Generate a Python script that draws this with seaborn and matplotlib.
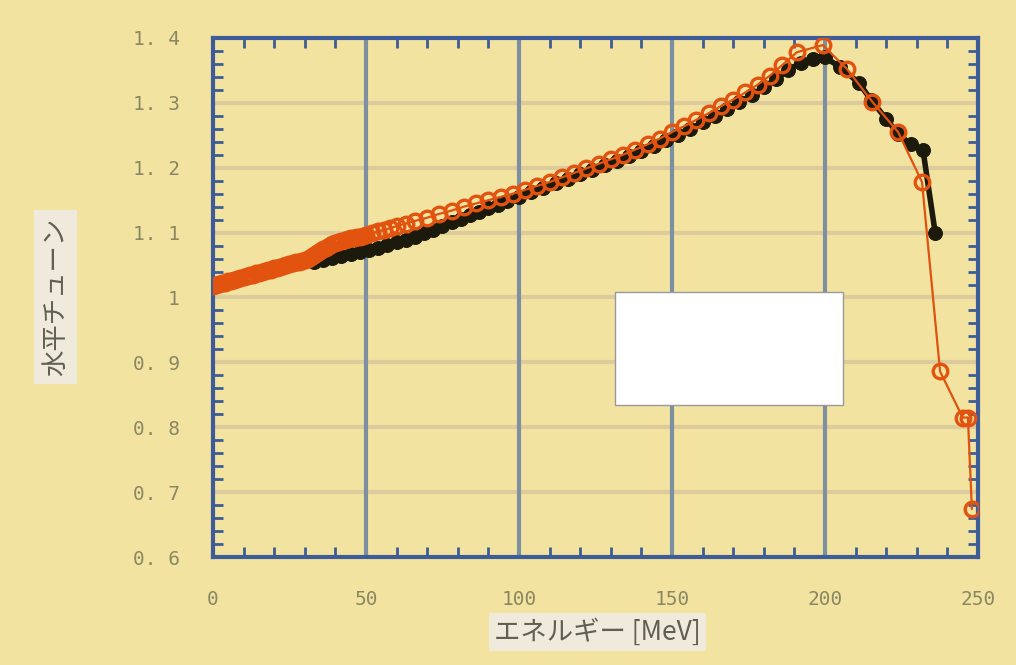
import numpy as np
import pandas as pd
import matplotlib
matplotlib.use("Agg")
import matplotlib.pyplot as plt
import seaborn as sns
from matplotlib.ticker import MultipleLocator, FixedLocator, FixedFormatter
from matplotlib.patches import Rectangle

# ---- data ----
orange_x = [0, 1, 2, 3, 4, 5, 6, 7, 8, 9, 10, 11, 12, 13, 14, 15, 16, 17, 18, 19, 20,
            21, 22, 23, 24, 25, 26, 27, 28, 29, 30, 31, 32, 33, 34, 35, 36, 37, 38, 39, 40,
            41, 42, 43, 44, 45, 46, 47, 48, 49, 50, 52, 54, 56, 58,
            60, 63, 66, 70, 74, 78, 82, 86, 90, 94, 98, 102, 106, 110, 114, 118, 122,
            126, 130, 134, 138, 142, 146, 150, 154, 158, 162, 166, 170, 174, 178, 182, 186,
            190.8, 199.3, 207.2, 215.4, 223.9, 231.7, 237.6, 245.0, 246.7, 248.0]
orange_y = [1.018, 1.019, 1.021, 1.022, 1.023, 1.025, 1.026, 1.027, 1.029, 1.030, 1.031,
            1.033, 1.034, 1.035, 1.037, 1.038, 1.039, 1.041, 1.042, 1.043, 1.045,
            1.046, 1.047, 1.049, 1.050, 1.051, 1.053, 1.054, 1.055, 1.057, 1.058,
            1.060, 1.063, 1.066, 1.069, 1.072, 1.075, 1.077, 1.080, 1.082, 1.084,
            1.086, 1.087, 1.088, 1.090, 1.091, 1.092, 1.093, 1.094, 1.095, 1.097,
            1.099, 1.102, 1.104, 1.107,
            1.110, 1.114, 1.118, 1.123, 1.129, 1.134, 1.140, 1.145, 1.150, 1.155,
            1.160, 1.166, 1.172, 1.178, 1.185, 1.192, 1.199, 1.206, 1.213, 1.220, 1.228, 1.236,
            1.245, 1.255, 1.264, 1.274, 1.284, 1.295, 1.305, 1.316, 1.328, 1.342, 1.358,
            1.378, 1.389, 1.352, 1.302, 1.255, 1.178, 0.886, 0.815, 0.815, 0.674]

black_x = [33, 36, 39, 42, 45, 48, 51, 54, 57, 60, 63, 66, 69, 72, 75, 78, 81, 84, 87, 90, 93,
           96, 100, 104, 108, 112, 116, 120, 124, 128, 132, 136, 140, 144, 148, 152, 156, 160,
           164, 168, 172, 176, 180, 184, 188, 192, 196, 200, 205, 211, 215, 220, 224, 228,
           232, 236]
black_y = [1.055, 1.058, 1.061, 1.064, 1.067, 1.070, 1.073, 1.077, 1.081, 1.085, 1.089, 1.094,
           1.099, 1.104, 1.110, 1.116, 1.121, 1.127, 1.132, 1.138, 1.143, 1.148, 1.155, 1.162,
           1.169, 1.176, 1.183, 1.190, 1.197, 1.204, 1.211, 1.218, 1.226, 1.234, 1.242, 1.251,
           1.260, 1.270, 1.280, 1.291, 1.301, 1.312, 1.324, 1.337, 1.350, 1.362, 1.368, 1.370,
           1.355, 1.331, 1.305, 1.275, 1.252, 1.236, 1.228, 1.100]

x_ticks = [0, 50, 100, 150, 200, 250]
y_ticks = [0.6, 0.7, 0.8, 0.9, 1.0, 1.1, 1.2, 1.3, 1.4]
y_tick_labels = ["0. 6", "0. 7", "0. 8", "0. 9", "1", "1. 1", "1. 2", "1. 3", "1. 4"]
x_label = "エネルギー [MeV]"
y_label = "水平チューン"

# ---- style ----
sns.set_style("white")
plt.rcParams['font.family'] = ['Noto Sans CJK JP', 'DejaVu Sans']

bg = "#f3e3a0"
spine_c = "#3d5c98"
tick_text_c = "#8a8862"

fig = plt.figure(figsize=(10.16, 6.65), dpi=100, facecolor=bg)
ax = fig.add_axes([0.2096, 0.1624, 0.753, 0.7805])
ax.set_facecolor(bg)

df_o = pd.DataFrame({"x": orange_x, "y": orange_y})
df_b = pd.DataFrame({"x": black_x, "y": black_y})

# grid
for yv in y_ticks[1:-1]:
    ax.axhline(yv, color="#dccb9c", lw=3, zorder=1)
for xv in x_ticks[1:-1]:
    ax.axvline(xv, color="#7d90a2", lw=3, zorder=1)

sns.lineplot(data=df_b, x="x", y="y", ax=ax, color="#1c1a0c", lw=4, marker="o",
             markersize=10, markeredgecolor="#1c1a0c", markerfacecolor="#1c1a0c",
             sort=False, zorder=3)
sns.lineplot(data=df_o, x="x", y="y", ax=ax, color="#e0520f", lw=1.6, marker="o",
             markersize=10.5, markeredgecolor="#e2530f", markerfacecolor="none",
             markeredgewidth=2.4, sort=False, zorder=4)

ax.set_xlim(0, 250)
ax.set_ylim(0.6, 1.4)
ax.xaxis.set_major_locator(FixedLocator(x_ticks))
ax.xaxis.set_minor_locator(MultipleLocator(10))
ax.yaxis.set_major_locator(FixedLocator(y_ticks))
ax.yaxis.set_major_formatter(FixedFormatter(y_tick_labels))
ax.yaxis.set_minor_locator(MultipleLocator(0.02))

ax.tick_params(which="both", direction="in", top=True, right=True, bottom=True, left=True,
               color=spine_c)
ax.tick_params(which="major", length=12, width=2)
ax.tick_params(which="minor", length=7, width=2)
ax.tick_params(axis="x", which="major", labelsize=14, labelcolor=tick_text_c, pad=24)
ax.tick_params(axis="y", which="major", labelsize=14, labelcolor=tick_text_c, pad=24)
for lbl in ax.get_xticklabels() + ax.get_yticklabels():
    lbl.set_family("DejaVu Sans Mono")

for s in ax.spines.values():
    s.set_color(spine_c)
    s.set_linewidth(3)

ax.set_xlabel("")
ax.set_ylabel("")

# axis labels in light boxes
fig.text(0.588, 0.05, x_label, ha="center", va="center", fontsize=19, color="#606050",
         bbox=dict(boxstyle="square,pad=0.2", fc="#efeadb", ec="none"))
fig.text(0.055, 0.553, y_label, ha="center", va="center", rotation=90, fontsize=19,
         color="#606050", bbox=dict(boxstyle="square,pad=0.3", fc="#efeadb", ec="none"))

# white occluding box
ax.add_patch(Rectangle((0.5255, 0.2929), 0.298, 0.2177, transform=ax.transAxes,
                       facecolor="white", edgecolor="#999999", lw=1, zorder=6))

fig.savefig("out.png", dpi=100, facecolor=bg)
